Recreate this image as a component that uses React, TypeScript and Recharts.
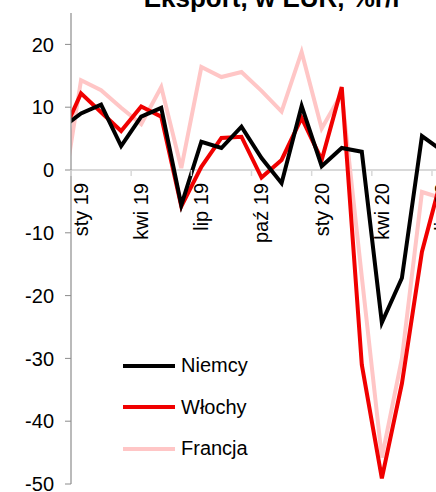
import React from 'react';
import { LineChart, Line, XAxis, YAxis, CartesianGrid } from 'recharts';

// miesiące od gru 18 do lip 20 (pierwszy i ostatni częściowo poza wykresem)
const months = [
    'gru 18', 'sty 19', 'lut 19', 'mar 19', 'kwi 19', 'maj 19', 'cze 19', 'lip 19', 'sie 19', 'wrz 19',
    'paź 19', 'lis 19', 'gru 19', 'sty 20', 'lut 20', 'mar 20', 'kwi 20', 'maj 20', 'cze 20', 'lip 20',
];

// eksport, w EUR, %r/r
const niemcy = [6.6, 9.0, 10.4, 3.8, 8.5, 9.9, -5.6, 4.5, 3.5, 6.9, 1.9, -2.1, 10.2, 0.6, 3.5, 2.9, -24.3, -17.2, 5.4, 3.1];
const wlochy = [5.1, 12.2, 9.2, 6.2, 10.1, 8.5, -5.8, 0.5, 5.1, 5.3, -1.2, 1.6, 8.3, 1.6, 13.2, -31, -49.1, -34, -13, -1];
const francja = [-5.9, 14.3, 12.7, 9.9, 7.3, 13.2, 0.3, 16.4, 14.8, 15.6, 12.6, 9.3, 18.8, 6.6, 12.2, -17, -45.8, -30, -3.5, -4.5];

const tickLabels = ['sty 19', 'kwi 19', 'lip 19', 'paź 19', 'sty 20', 'kwi 20', 'lip 20'];
const yTicks = [-50, -40, -30, -20, -10, 0, 10, 20];

const series = [
    { key: 'niemcy', name: 'Niemcy', color: '#000000' },
    { key: 'wlochy', name: 'Włochy', color: '#f00000' },
    { key: 'francja', name: 'Francja', color: '#ffc6c6' },
];

const data = months.map((month, idx) => ({
    idx,
    month,
    niemcy: niemcy[idx],
    wlochy: wlochy[idx],
    francja: francja[idx],
}));

// kreski osi X leżą między miesiącami, podpis przy miesiącu
const xTicks = tickLabels.map((l) => months.indexOf(l) - 0.5);

const FONT = '"Liberation Sans", Arial, sans-serif';
const W = 436;
const H = 492;
const X_AXIS_H = 30;
// wykres jest wyższy od ramki, pas osi X chowa się pod jej dolną krawędzią
const CHART_H = H - 8 + X_AXIS_H;
const MARGIN = { top: 13, right: 0, bottom: 0, left: 0 };
const Y_MIN = -50;
const Y_MAX = 25;
const PLOT_H = CHART_H - MARGIN.top - MARGIN.bottom - X_AXIS_H;
const ZERO_Y = MARGIN.top + (PLOT_H * Y_MAX) / (Y_MAX - Y_MIN);

const MonthTick = (props: any) => {
    const { x, payload } = props;
    const label = months[Math.round(payload.value + 0.5)];
    return (
        <g>
            <line x1={x} x2={x} y1={ZERO_Y} y2={ZERO_Y + 6} stroke="#d9d9d9" strokeWidth={1.5} />
            <text
                transform={`translate(${x + 17}, ${ZERO_Y + 13}) rotate(-90)`}
                textAnchor="end"
                fontSize={20}
                fontFamily={FONT}
                fill="#000"
            >
                {label}
            </text>
        </g>
    );
};

export default function App() {
    return (
        <div style={{ position: 'absolute', left: 0, top: 0, width: W, height: H, overflow: 'hidden', background: '#fff' }}>
            <div
                style={{
                    position: 'absolute',
                    left: 110,
                    width: 326,
                    top: -15,
                    textAlign: 'center',
                    fontFamily: FONT,
                    fontWeight: 'bold',
                    fontSize: 26,
                    lineHeight: '26px',
                }}
            >
                Eksport, w EUR, %r/r
            </div>
            <LineChart width={W} height={CHART_H} data={data} margin={MARGIN}>
                <CartesianGrid horizontal vertical={false} horizontalValues={[0]} stroke="#d9d9d9" strokeWidth={2} />
                <XAxis
                    dataKey="idx"
                    type="number"
                    domain={[0.5, 18.7]}
                    allowDataOverflow
                    ticks={xTicks}
                    interval={0}
                    height={X_AXIS_H}
                    axisLine={false}
                    tickLine={false}
                    tick={<MonthTick />}
                />
                <YAxis
                    type="number"
                    domain={[Y_MIN, Y_MAX]}
                    ticks={yTicks}
                    interval={0}
                    allowDataOverflow
                    width={71}
                    axisLine={{ stroke: '#8c8c8c', strokeWidth: 1.2 }}
                    tickLine={{ stroke: '#8c8c8c' }}
                    tickSize={6}
                    tickMargin={11}
                    tick={{ fontSize: 20, fontFamily: FONT, fill: '#000' }}
                />
                {/* Francja pod spodem, Niemcy na wierzchu */}
                {[...series].reverse().map((s) => (
                    <Line
                        key={s.key}
                        type="linear"
                        dataKey={s.key}
                        name={s.name}
                        stroke={s.color}
                        strokeWidth={4}
                        dot={false}
                        isAnimationActive={false}
                    />
                ))}
            </LineChart>
            <div style={{ position: 'absolute', left: 123, top: 345, fontFamily: FONT, fontSize: 20 }}>
                {series.map((s) => (
                    <div key={s.key} style={{ display: 'flex', alignItems: 'center', height: 41.5 }}>
                        <span style={{ display: 'inline-block', width: 52, height: 4, background: s.color, marginRight: 6 }} />
                        <span>{s.name}</span>
                    </div>
                ))}
            </div>
        </div>
    );
}
